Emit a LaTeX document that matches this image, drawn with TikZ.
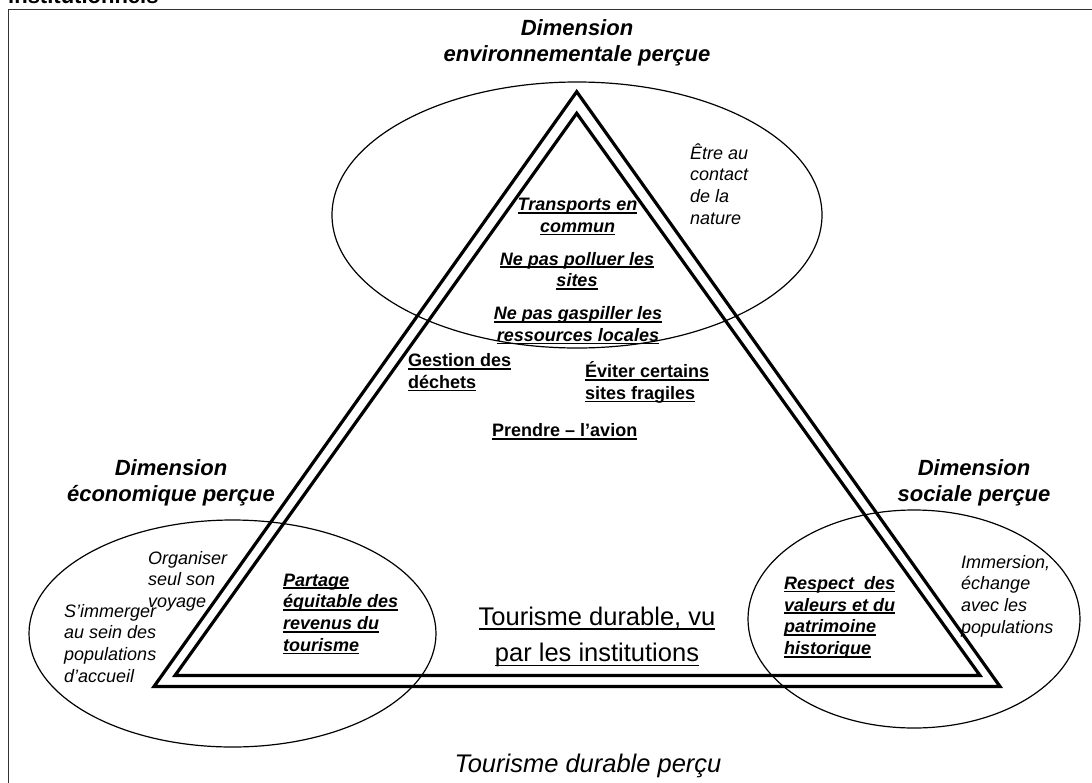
\documentclass[tikz,border=0pt]{standalone}
\usepackage{fontspec}
\setmainfont{Liberation Sans}
\newsavebox\ulbox
\newcommand\ulx[1]{\sbox\ulbox{#1}\rlap{\rule[-3pt]{\wd\ulbox}{1.7pt}}\usebox\ulbox}
\newcommand\ulb[1]{\sbox\ulbox{#1}\rlap{\rule[-4.6pt]{\wd\ulbox}{1.8pt}}\usebox\ulbox}
\begin{document}
\begin{tikzpicture}[x=1pt,y=-1pt,
  frame/.style={draw=black!80,line width=1.6pt},
  ell/.style={draw=black,line width=1.2pt},
  tri/.style={draw=black,line width=3.2pt,line join=miter},
  head/.style={font=\fontsize{22}{26}\selectfont\bfseries\itshape,align=center,inner sep=0pt},
  bodyit/.style={font=\fontsize{18}{21.8}\selectfont\itshape,align=left,inner sep=0pt},
  boldit/.style={font=\fontsize{18}{21.8}\selectfont\bfseries\itshape,inner sep=0pt},
  boldup/.style={font=\fontsize{18}{21.8}\selectfont\bfseries,inner sep=0pt},
  big/.style={font=\fontsize{25.5}{36.7}\selectfont,inner sep=0pt,align=center}]
\useasboundingbox (0,0) rectangle (1092,782);
\fill[white] (0,0) rectangle (1092,782);
% frame (continues beyond the right and bottom edges)
\draw[frame] (8.5,9.5) rectangle (1120,810);
\node[font=\fontsize{22}{26}\selectfont\bfseries,inner sep=0pt,anchor=base west] (toptxt) at (8,3.5) {institutionnels};
% ellipses
\draw[ell] (577,215) ellipse [x radius=245, y radius=133];
\draw[ell] (232.5,633.5) ellipse [x radius=203.5, y radius=113.5];
\draw[ell] (914,619) ellipse [x radius=166, y radius=109];
% triangles
\draw[tri] (576.7,91.7) -- (1000,686.5) -- (154,686.5) -- cycle;
\draw[tri] (576.7,113.3) -- (980,675.5) -- (175,675.5) -- cycle;
% headings (anchor base = baseline of the last line)
\node[head,anchor=base] (henv) at (577,61) {Dimension\\environnementale perçue};
\node[head,anchor=base] (heco) at (171,501) {Dimension\\économique perçue};
\node[head,anchor=base] (hsoc) at (974,501) {Dimension\\sociale perçue};
% italic texts
\node[bodyit,anchor=base west] (etre) at (690,224.4) {Être au\\contact\\de la\\nature};
\node[bodyit,anchor=base west] (org) at (148,607.6) {Organiser\\seul son\\voyage};
\node[bodyit,anchor=base west] (imm) at (64,682.4) {S’immerger\\au sein des\\populations\\d’accueil};
\node[bodyit,anchor=base west] (immer) at (961,633.4) {Immersion,\\échange\\avec les\\populations};
% bold italic underlined
\node[boldit,align=center,anchor=base] (trans) at (577.5,232.3) {\ulx{Transports en}\\\ulx{commun}};
\node[boldit,align=center,anchor=base] (poll) at (577,286.8) {\ulx{Ne pas polluer les}\\\ulx{sites}};
\node[boldit,align=center,anchor=base] (gasp) at (578,341.3) {\ulx{Ne pas gaspiller les}\\\ulx{ressources locales}};
\node[boldit,align=left,anchor=base west] (part) at (283,651.4) {\ulx{Partage}\\\ulx{équitable des}\\\ulx{revenus du}\\\ulx{tourisme}};
\node[boldit,align=left,anchor=base west] (resp) at (784,654.7) {\ulx{Respect\hspace{5pt} des}\\\ulx{valeurs et du}\\\ulx{patrimoine}\\\ulx{historique}};
% bold upright underlined
\node[boldup,align=left,anchor=base west] (gest) at (408,388.3) {\ulx{Gestion des}\\\ulx{déchets}};
\node[boldup,align=left,anchor=base west] (evit) at (585,399.3) {\ulx{Éviter certains}\\\ulx{sites fragiles}};
\node[boldup,anchor=base west] (avion) at (492,436.5) {\ulx{Prendre – l’avion}};
% big texts
\node[big,anchor=base] (inst) at (597,661.7) {\ulb{Tourisme durable, vu}\\\ulb{par les institutions}};
\node[big,font=\fontsize{25.5}{36.7}\selectfont\itshape,anchor=base] (percu) at (588,772) {Tourisme durable perçu};
\end{tikzpicture}
\end{document}
